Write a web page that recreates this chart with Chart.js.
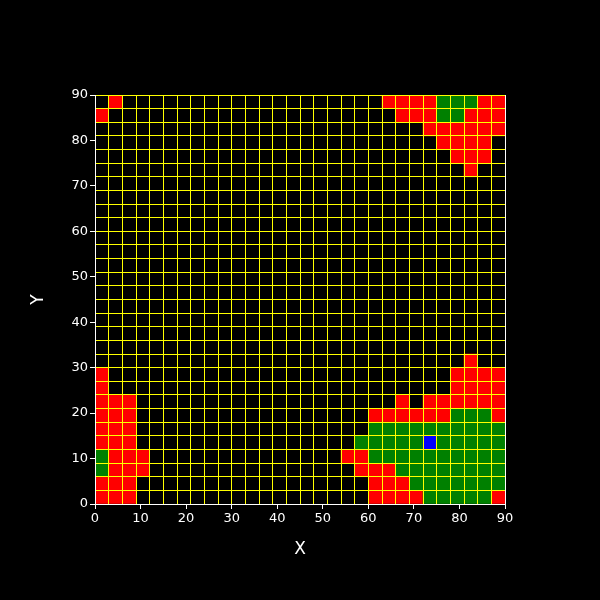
<!DOCTYPE html>
<html>
<head>
<meta charset="utf-8">
<script src="https://cdn.jsdelivr.net/npm/chart.js@4.4.1/dist/chart.umd.min.js"></script>
<style>
html,body{margin:0;padding:0;background:#000;}
canvas{display:block;background:#000;}
</style>
</head>
<body>
<canvas id="c" width="600" height="600"></canvas>
<script>
// ---- data ----
const cellSize = 3;               // each cell spans 3 units in x and y
const axisMin = 0, axisMax = 90;
const tickValues = [0, 10, 20, 30, 40, 50, 60, 70, 80, 90];
const xTitle = 'X', yTitle = 'Y';

// lower-left corners [x, y] of coloured cells
const redCells = [
  [3,87],[63,87],[66,87],[69,87],[72,87],[84,87],[87,87],
  [0,84],[66,84],[69,84],[72,84],[81,84],[84,84],[87,84],
  [72,81],[75,81],[78,81],[81,81],[84,81],[87,81],
  [75,78],[78,78],[81,78],[84,78],
  [78,75],[81,75],[84,75],
  [81,72],
  [81,30],
  [0,27],[78,27],[81,27],[84,27],[87,27],
  [0,24],[78,24],[81,24],[84,24],[87,24],
  [0,21],[3,21],[6,21],[66,21],[72,21],[75,21],[78,21],[81,21],[84,21],[87,21],
  [0,18],[3,18],[6,18],[60,18],[63,18],[66,18],[69,18],[72,18],[75,18],[87,18],
  [0,15],[3,15],[6,15],
  [0,12],[3,12],[6,12],
  [3,9],[6,9],[9,9],[54,9],[57,9],
  [3,6],[6,6],[9,6],[57,6],[60,6],[63,6],
  [0,3],[3,3],[6,3],[60,3],[63,3],[66,3],
  [0,0],[3,0],[6,0],[60,0],[63,0],[66,0],[69,0],[87,0]
];
const greenCells = [
  [75,87],[78,87],[81,87],
  [75,84],[78,84],
  [78,18],[81,18],[84,18],
  [60,15],[63,15],[66,15],[69,15],[72,15],[75,15],[78,15],[81,15],[84,15],[87,15],
  [57,12],[60,12],[63,12],[66,12],[69,12],[75,12],[78,12],[81,12],[84,12],[87,12],
  [0,9],[60,9],[63,9],[66,9],[69,9],[72,9],[75,9],[78,9],[81,9],[84,9],[87,9],
  [0,6],[66,6],[69,6],[72,6],[75,6],[78,6],[81,6],[84,6],[87,6],
  [69,3],[72,3],[75,3],[78,3],[81,3],[84,3],[87,3],
  [72,0],[75,0],[78,0],[81,0],[84,0]
];
const blueCells = [[72,12]];

// ---- styles ----
const RED = '#ff0000', GREEN = '#008000', BLUE = '#0000ff';
const GRID = '#ffff00', AXIS = '#ffffff', TEXT = '#ffffff';
const FONT = 'DejaVu Sans';

const groups = [[redCells, RED], [greenCells, GREEN], [blueCells, BLUE]];
const barData = [], barColors = [];
groups.forEach(([cells, col]) => {
  cells.forEach(([x, y]) => {
    barData.push({ x: x + cellSize / 2, y: [y, y + cellSize] });
    barColors.push(col);
  });
});

const setTicks = s => { s.ticks = tickValues.map(v => ({ value: v })); };

new Chart(document.getElementById('c'), {
  type: 'bar',
  data: {
    datasets: [{
      data: barData,
      backgroundColor: barColors,
      borderWidth: 0,
      barPercentage: 1,
      categoryPercentage: 1,
      xAxisID: 'x',
      yAxisID: 'y'
    }]
  },
  options: {
    responsive: false,
    animation: false,
    layout: { padding: { top: 95, right: 95, left: 0, bottom: 0 } },
    plugins: { legend: { display: false }, tooltip: { enabled: false } },
    scales: {
      x: {
        type: 'linear', position: 'bottom', min: axisMin, max: axisMax, offset: false,
        afterBuildTicks: setTicks,
        afterFit: s => { s.height = 96; },
        ticks: { color: TEXT, font: { family: FONT, size: 13 }, padding: 2, maxRotation: 0, autoSkip: false },
        grid: { display: true, offset: false, drawOnChartArea: false, drawTicks: true, tickLength: 5, tickColor: AXIS, z: 1 },
        border: { display: true, color: AXIS, width: 1, z: 2 },
        title: { display: true, text: xTitle, color: TEXT, font: { family: FONT, size: 17 }, padding: { top: 0, bottom: 40 } }
      },
      y: {
        type: 'linear', position: 'left', min: axisMin, max: axisMax,
        afterBuildTicks: setTicks,
        afterFit: s => { s.width = 95; },
        ticks: { color: TEXT, font: { family: FONT, size: 13 }, padding: 2, autoSkip: false },
        grid: { display: true, drawOnChartArea: false, drawTicks: true, tickLength: 5, tickColor: AXIS, z: 1 },
        border: { display: true, color: AXIS, width: 1, z: 2 },
        title: { display: true, text: yTitle, color: TEXT, font: { family: FONT, size: 17 }, padding: { top: 28, bottom: 0 } }
      },
      xg: {
        type: 'linear', position: 'bottom', min: axisMin, max: axisMax, offset: false,
        afterFit: s => { s.height = 0; },
        ticks: { display: false, stepSize: cellSize },
        grid: {
          display: true, offset: false, drawTicks: false, lineWidth: 1, z: 1,
          color: c => (c.tick && c.tick.value === axisMin) ? 'rgba(0,0,0,0)' : (c.tick && c.tick.value === axisMax ? AXIS : GRID)
        },
        border: { display: false }
      },
      yg: {
        type: 'linear', position: 'left', min: axisMin, max: axisMax,
        afterFit: s => { s.width = 0; },
        ticks: { display: false, stepSize: cellSize },
        grid: {
          display: true, drawTicks: false, lineWidth: 1, z: 1,
          color: c => (c.tick && c.tick.value === axisMin) ? 'rgba(0,0,0,0)' : GRID
        },
        border: { display: false }
      }
    }
  }
});
</script>
</body>
</html>
